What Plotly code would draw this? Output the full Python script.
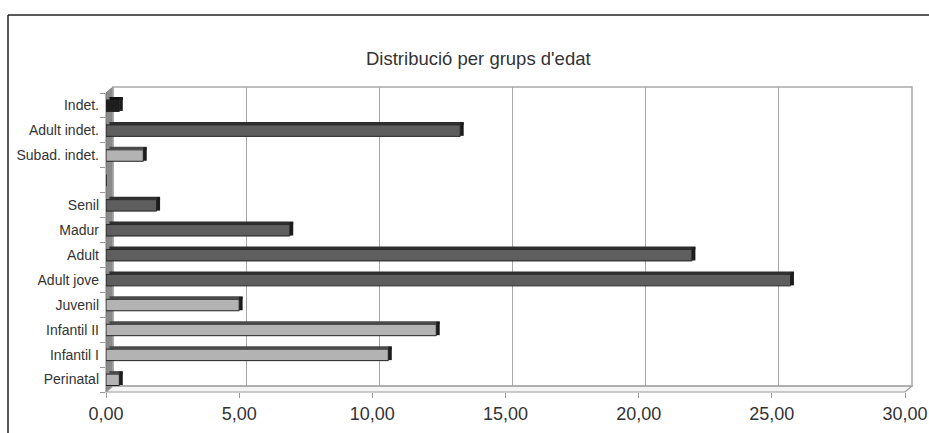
import plotly.graph_objects as go

# ---- data (bottom to top) ----
categories = ["Perinatal", "Infantil I", "Infantil II", "Juvenil", "Adult jove",
              "Adult", "Madur", "Senil", " ", "Subad. indet.", "Adult indet.", "Indet."]
values = [0.5, 10.6, 12.4, 5.0, 25.7, 22.0, 6.9, 1.9, None, 1.4, 13.3, 0.5]
groups = ["sub", "sub", "sub", "sub", "adult", "adult", "adult", "adult", None,
          "sub", "adult", "indet"]
x_ticks = [0, 5, 10, 15, 20, 25, 30]
x_ticklabels = ["0,00", "5,00", "10,00", "15,00", "20,00", "25,00", "30,00"]
title_text = "Distribució per grups d'edat"

# ---- styles ----
W, H = 929, 433
face_col = {"sub": "#b3b3b3", "adult": "#5e5e5e", "indet": "#1e1e1e", None: "rgba(0,0,0,0)"}
top_col = {"sub": "#4a4a4a", "adult": "#2e2e2e", "indet": "#111111", None: "rgba(0,0,0,0)"}
FONT = "Liberation Sans, Arial, sans-serif"

def px(x):
    return x / W

def py(y):
    return 1 - y / H

# front plane (bars) and back plane (grid)
front = dict(x0=106, x1=905, y0=93, y1=392)
back = dict(x0=113, x1=912, y0=87, y1=386)

vals_plot = [v if v is not None else 0 for v in values]
DEPTH = 0.13  # horizontal 3D shift in data units

fig = go.Figure()

# invisible trace for the back plane (grid) subplot
fig.add_trace(go.Scatter(x=[0, 30], y=[0, 1], mode="markers",
                         marker=dict(opacity=0), hoverinfo="skip",
                         showlegend=False, xaxis="x", yaxis="y"))

# bar front faces
fig.add_trace(go.Bar(
    y=categories, x=vals_plot, orientation="h",
    marker=dict(color=[face_col[g] for g in groups],
                line=dict(color="#222222", width=1)),
    width=0.46, offset=-0.24, showlegend=False,
    xaxis="x2", yaxis="y2"))

# bar top faces
fig.add_trace(go.Bar(
    y=categories, x=vals_plot, base=[DEPTH] * len(categories), orientation="h",
    marker=dict(color=[top_col[g] if v else "rgba(0,0,0,0)" for g, v in zip(groups, values)],
                line=dict(width=0)),
    width=0.12, offset=0.22, showlegend=False,
    xaxis="x2", yaxis="y2"))

# bar end caps
fig.add_trace(go.Bar(
    y=categories, x=[DEPTH if v else 0 for v in values], base=vals_plot, orientation="h",
    marker=dict(color=["#1c1c1c" if v else "rgba(0,0,0,0)" for v in values],
                line=dict(width=0)),
    width=0.54, offset=-0.22, showlegend=False,
    xaxis="x2", yaxis="y2"))

shapes = []
# outer frame (top and left)
shapes.append(dict(type="line", xref="paper", yref="paper",
                   x0=px(8), x1=1.0, y0=py(15), y1=py(15),
                   line=dict(color="#222222", width=1.5)))
shapes.append(dict(type="line", xref="paper", yref="paper",
                   x0=px(8), x1=px(8), y0=py(15), y1=0,
                   line=dict(color="#222222", width=1.5)))
# left wall
shapes.append(dict(type="path", xref="paper", yref="paper", layer="below",
                   path=f"M {px(front['x0'])},{py(front['y0'])} L {px(back['x0'])},{py(back['y0'])} "
                        f"L {px(back['x0'])},{py(back['y1'])} L {px(front['x0'])},{py(front['y1'])} Z",
                   fillcolor="#8a8a8a", line=dict(color="#777777", width=1)))
# floor
shapes.append(dict(type="path", xref="paper", yref="paper", layer="below",
                   path=f"M {px(front['x0'])},{py(front['y1'])} L {px(back['x0'])},{py(back['y1'])} "
                        f"L {px(back['x1'])},{py(back['y1'])} L {px(front['x1'])},{py(front['y1'])} Z",
                   fillcolor="#f4f4f4", line=dict(color="#9a9a9a", width=1.2)))
# back wall outline
shapes.append(dict(type="rect", xref="paper", yref="paper", layer="below",
                   x0=px(back['x0']), x1=px(back['x1']), y0=py(back['y1']), y1=py(back['y0']),
                   line=dict(color="#a8a8a8", width=1.5)))

fig.update_layout(
    width=W, height=H,
    margin=dict(l=0, r=0, t=0, b=0, autoexpand=False),
    paper_bgcolor="white",
    plot_bgcolor="rgba(0,0,0,0)",
    barmode="overlay",
    font=dict(family=FONT, color="#333333"),
    shapes=shapes,
    annotations=[dict(text=title_text, xref="paper", yref="paper",
                      x=px(478), y=py(46), showarrow=False,
                      font=dict(size=18.5, color="#333333", family=FONT))],
    xaxis=dict(domain=[px(back['x0']), px(back['x1'])], range=[0, 30],
               anchor="y", showgrid=True, gridcolor="#a8a8a8", gridwidth=1.2,
               tickvals=x_ticks, showticklabels=False, zeroline=False,
               showline=False, ticks="", automargin=False),
    yaxis=dict(domain=[py(back['y1']), py(back['y0'])], range=[0, 1],
               anchor="x", showgrid=False, showticklabels=False, zeroline=False,
               showline=False, automargin=False),
    xaxis2=dict(domain=[px(front['x0']), px(front['x1'])], range=[0, 30],
                anchor="y2", showgrid=False, zeroline=False, showline=False,
                tickvals=x_ticks, ticktext=x_ticklabels, ticks="outside",
                ticklen=5, tickcolor="#999999", automargin=False,
                tickfont=dict(size=18, color="#333333")),
    yaxis2=dict(domain=[py(front['y1']), py(front['y0'])],
                anchor="x2", type="category", categoryorder="array",
                categoryarray=categories, range=[-0.5, len(categories) - 0.5],
                showgrid=False, zeroline=False, showline=False,
                ticks="outside", ticklen=5, tickcolor="#999999",
                tickson="boundaries", automargin=False, ticklabelstandoff=6,
                tickfont=dict(size=14, color="#333333")),
)

fig.write_html("out.html", config={"displayModeBar": False})

# remove the default page margin so the figure sits at the window's top-left corner
with open("out.html", "r", encoding="utf-8") as f:
    html = f.read()
html = html.replace("<head>", "<head><style>html,body{margin:0;padding:0;overflow:hidden;}</style>", 1)
with open("out.html", "w", encoding="utf-8") as f:
    f.write(html)
